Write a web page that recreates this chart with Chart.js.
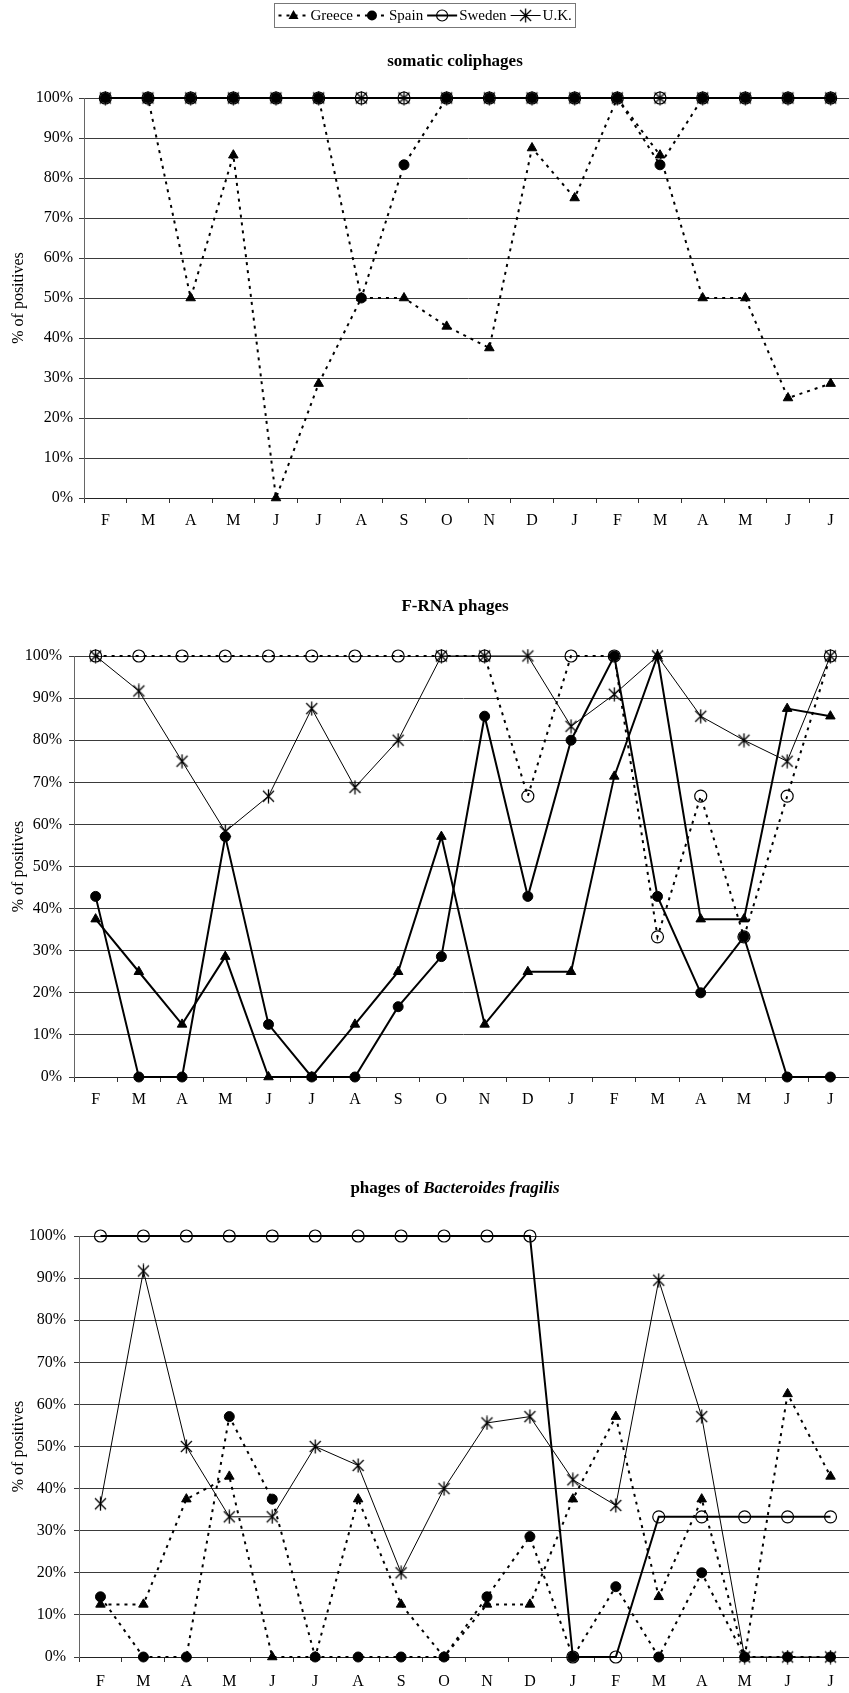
<!DOCTYPE html>
<html>
<head>
<meta charset="utf-8">
<title>% of positives by month</title>
<script src="https://cdn.jsdelivr.net/npm/chart.js@4.4.1/dist/chart.umd.min.js"></script>
<style>
  html, body { margin: 0; padding: 0; background: #fff; overflow: hidden; }
  body { width: 849px; height: 1693px; position: relative; }
  canvas { position: absolute; left: 0; }
</style>
</head>
<body>
<canvas id="legendCanvas" width="849" height="40" style="top:0;z-index:2"></canvas>
<canvas id="somaticChart" width="860" height="545" style="top:0"></canvas>
<canvas id="frnaChart" width="860" height="585" style="top:545px"></canvas>
<canvas id="fragilisChart" width="860" height="563" style="top:1130px"></canvas>
<script>
// Months of sampling (Feb .. Jul of the following year)
const months = ['F', 'M', 'A', 'M', 'J', 'J', 'A', 'S', 'O', 'N', 'D', 'J', 'F', 'M', 'A', 'M', 'J', 'J'];
const countries = ['Greece', 'Spain', 'Sweden', 'U.K.'];
const yTickLabels = ['0%', '10%', '20%', '30%', '40%', '50%', '60%', '70%', '80%', '90%', '100%'];

// somatic coliphages (% of positives)
const somaticGreece = [100, 100, 50, 85.7, 0, 28.6, 50, 50, 42.9, 37.5, 87.5, 75, 100, 85.7, 50, 50, 25, 28.6];
const somaticSpain  = [100, 100, 100, 100, 100, 100, 50, 83.3, 100, 100, 100, 100, 100, 83.3, 100, 100, 100, 100];
const somaticSweden = [100, 100, 100, 100, 100, 100, 100, 100, 100, 100, 100, 100, 100, 100, 100, 100, 100, 100];
const somaticUK     = [100, 100, 100, 100, 100, 100, 100, 100, 100, 100, 100, 100, 100, 100, 100, 100, 100, 100];

// F-RNA phages
const frnaGreece = [37.5, 25, 12.5, 28.6, 0, 0, 12.5, 25, 57.1, 12.5, 25, 25, 71.4, 100, 37.5, 37.5, 87.5, 85.7];
const frnaSpain  = [42.9, 0, 0, 57.1, 12.5, 0, 0, 16.7, 28.6, 85.7, 42.9, 80, 100, 42.9, 20, 33.3, 0, 0];
const frnaSweden = [100, 100, 100, 100, 100, 100, 100, 100, 100, 100, 66.7, 100, 100, 33.3, 66.7, 33.3, 66.7, 100];
const frnaUK     = [100, 91.7, 75, 58.3, 66.7, 87.5, 68.8, 80, 100, 100, 100, 83.3, 90.9, 100, 85.7, 80, 75, 100];

// phages of Bacteroides fragilis
const fragilisGreece = [12.5, 12.5, 37.5, 42.9, 0, 0, 37.5, 12.5, 0, 12.5, 12.5, 37.5, 57.1, 14.3, 37.5, 0, 62.5, 42.9];
const fragilisSpain  = [14.3, 0, 0, 57.1, 37.5, 0, 0, 0, 0, 14.3, 28.6, 0, 16.7, 0, 20, 0, 0, 0];
const fragilisSweden = [100, 100, 100, 100, 100, 100, 100, 100, 100, 100, 100, 0, 0, 33.3, 33.3, 33.3, 33.3, 33.3];
const fragilisUK     = [36.4, 91.7, 50, 33.3, 33.3, 50, 45.5, 20, 40, 55.6, 57.1, 42.1, 36, 89.5, 57.1, 0, 0, 0];

const SERIF = '"Liberation Serif", "Times New Roman", serif';
const DOTS = [3, 5];

// asterisk marker used for the U.K.
const starMarker = (function() {
  const c = document.createElement('canvas');
  c.width = 15; c.height = 15;
  const g = c.getContext('2d');
  g.strokeStyle = '#000';
  g.lineWidth = 1.3;
  g.beginPath();
  g.moveTo(2, 2); g.lineTo(13, 13);
  g.moveTo(13, 2); g.lineTo(2, 13);
  g.moveTo(7.5, 0.5); g.lineTo(7.5, 14.5);
  g.stroke();
  return c;
})();

function markerOptions(i) {
  if (i === 0) return { pointStyle: 'triangle', pointRadius: 5.5, pointBackgroundColor: '#000', pointBorderColor: '#000', pointBorderWidth: 1 };
  if (i === 1) return { pointStyle: 'circle', pointRadius: 5, pointBackgroundColor: '#000', pointBorderColor: '#000', pointBorderWidth: 1 };
  if (i === 2) return { pointStyle: 'circle', pointRadius: 6, pointBackgroundColor: 'rgba(0,0,0,0)', pointBorderColor: '#000', pointBorderWidth: 1.2 };
  return { pointStyle: starMarker, pointRadius: 7 };
}

// draws the panel title (can be in several font parts)
const panelTitle = {
  id: 'panelTitle',
  afterDraw(chart, args, opts) {
    const ctx = chart.ctx;
    const parts = opts.parts || [];
    ctx.save();
    ctx.fillStyle = '#000';
    ctx.textBaseline = 'middle';
    ctx.textAlign = 'left';
    const widths = parts.map(p => { ctx.font = p.font; return ctx.measureText(p.text).width; });
    let x = opts.cx - widths.reduce((a, b) => a + b, 0) / 2;
    parts.forEach((p, i) => {
      ctx.font = p.font;
      ctx.fillText(p.text, x, opts.cy);
      x += widths[i];
    });
    ctx.restore();
  }
};

function makePanel(id, series, dashed, layout, titleParts) {
  const datasets = series.map((data, i) => Object.assign({
    label: countries[i],
    data: data,
    borderColor: '#000',
    borderWidth: i === 3 ? 1 : 2,
    borderDash: dashed[i] ? DOTS : [],
    tension: 0,
    fill: false,
    clip: false
  }, markerOptions(i)));

  return new Chart(document.getElementById(id), {
    type: 'line',
    data: { labels: months, datasets: datasets },
    plugins: [panelTitle],
    options: {
      responsive: false,
      animation: false,
      events: [],
      layout: { padding: { top: layout.top, bottom: layout.bottom, left: 0, right: layout.right } },
      plugins: {
        legend: { display: false },
        tooltip: { enabled: false },
        panelTitle: { cx: 455, cy: layout.titleY, parts: titleParts }
      },
      scales: {
        x: {
          offset: true,
          grid: { offset: true, drawOnChartArea: false, drawTicks: true, tickLength: 5, color: '#333' },
          border: { color: '#222', width: 1 },
          ticks: { color: '#000', font: { family: SERIF, size: 16 }, padding: layout.xPad, maxRotation: 0, autoSkip: false },
          afterFit: s => { s.height = 30; }
        },
        y: {
          min: 0,
          max: 100,
          ticks: {
            stepSize: 10,
            color: '#000',
            font: { family: SERIF, size: 16 },
            padding: layout.tickPad,
            callback: (v, i) => yTickLabels[i]
          },
          grid: { color: '#3a3a3a', lineWidth: 1, tickLength: 5 },
          border: { color: '#666', width: 1 },
          title: {
            display: true,
            text: '% of positives',
            color: '#000',
            font: { family: SERIF, size: 16, lineHeight: 1.2 },
            padding: { top: 9, bottom: 0 }
          },
          afterFit: s => { s.width = layout.left; }
        }
      }
    }
  });
}

const boldTitle = 'bold 17px ' + SERIF;

makePanel('somaticChart',
  [somaticGreece, somaticSpain, somaticSweden, somaticUK],
  [true, true, false, false],
  { top: 98, bottom: 17, right: 4.5, left: 84, tickPad: 6, xPad: 8, titleY: 62 },
  [{ text: 'somatic coliphages', font: boldTitle }]);

makePanel('frnaChart',
  [frnaGreece, frnaSpain, frnaSweden, frnaUK],
  [false, false, true, false],
  { top: 111, bottom: 23, right: 0.5, left: 74, tickPad: 7, xPad: 8, titleY: 62 },
  [{ text: 'F-RNA phages', font: boldTitle }]);

makePanel('fragilisChart',
  [fragilisGreece, fragilisSpain, fragilisSweden, fragilisUK],
  [true, true, false, false],
  { top: 106, bottom: 6, right: 5.5, left: 79, tickPad: 8, xPad: 10, titleY: 59 },
  [{ text: 'phages of ', font: boldTitle }, { text: 'Bacteroides fragilis', font: 'italic ' + boldTitle }]);

// legend box at the top of the page
function drawLegend() {
  const c = document.getElementById('legendCanvas');
  const ctx = c.getContext('2d');
  const dashedLegend = [true, true, false, false];
  const sampleW = 30, gapText = 2, gapItem = 4, pad = 4;
  ctx.font = '15px ' + SERIF;
  const textW = countries.map(n => ctx.measureText(n).width);
  const total = textW.reduce((a, b) => a + b, 0) + countries.length * (sampleW + gapText) + (countries.length - 1) * gapItem + 2 * pad;
  const left = Math.round(424.5 - total / 2) + 0.5;
  const top = 3.5, h = 24, cy = top + h / 2;

  ctx.strokeStyle = '#777';
  ctx.lineWidth = 1;
  ctx.strokeRect(left, top, Math.round(total), h);

  let x = left + pad;
  countries.forEach((name, i) => {
    ctx.save();
    ctx.strokeStyle = '#000';
    ctx.lineWidth = i === 3 ? 1 : 2;
    ctx.setLineDash(dashedLegend[i] ? DOTS : []);
    ctx.beginPath();
    ctx.moveTo(x, cy);
    ctx.lineTo(x + sampleW, cy);
    ctx.stroke();
    ctx.restore();

    const mx = x + sampleW / 2;
    ctx.save();
    ctx.fillStyle = '#000';
    ctx.strokeStyle = '#000';
    ctx.lineWidth = 1.2;
    if (i === 0) {
      ctx.beginPath();
      ctx.moveTo(mx, cy - 5.5);
      ctx.lineTo(mx + 5, cy + 3.5);
      ctx.lineTo(mx - 5, cy + 3.5);
      ctx.closePath();
      ctx.fill();
    } else if (i === 1) {
      ctx.beginPath();
      ctx.arc(mx, cy, 5, 0, Math.PI * 2);
      ctx.fill();
    } else if (i === 2) {
      ctx.beginPath();
      ctx.arc(mx, cy, 5.5, 0, Math.PI * 2);
      ctx.stroke();
    } else {
      ctx.drawImage(starMarker, mx - 7.5, cy - 7.5);
    }
    ctx.restore();

    ctx.fillStyle = '#000';
    ctx.textBaseline = 'middle';
    ctx.fillText(name, x + sampleW + gapText, cy + 1);
    x += sampleW + gapText + textW[i] + gapItem;
  });
}

drawLegend();
</script>
</body>
</html>
